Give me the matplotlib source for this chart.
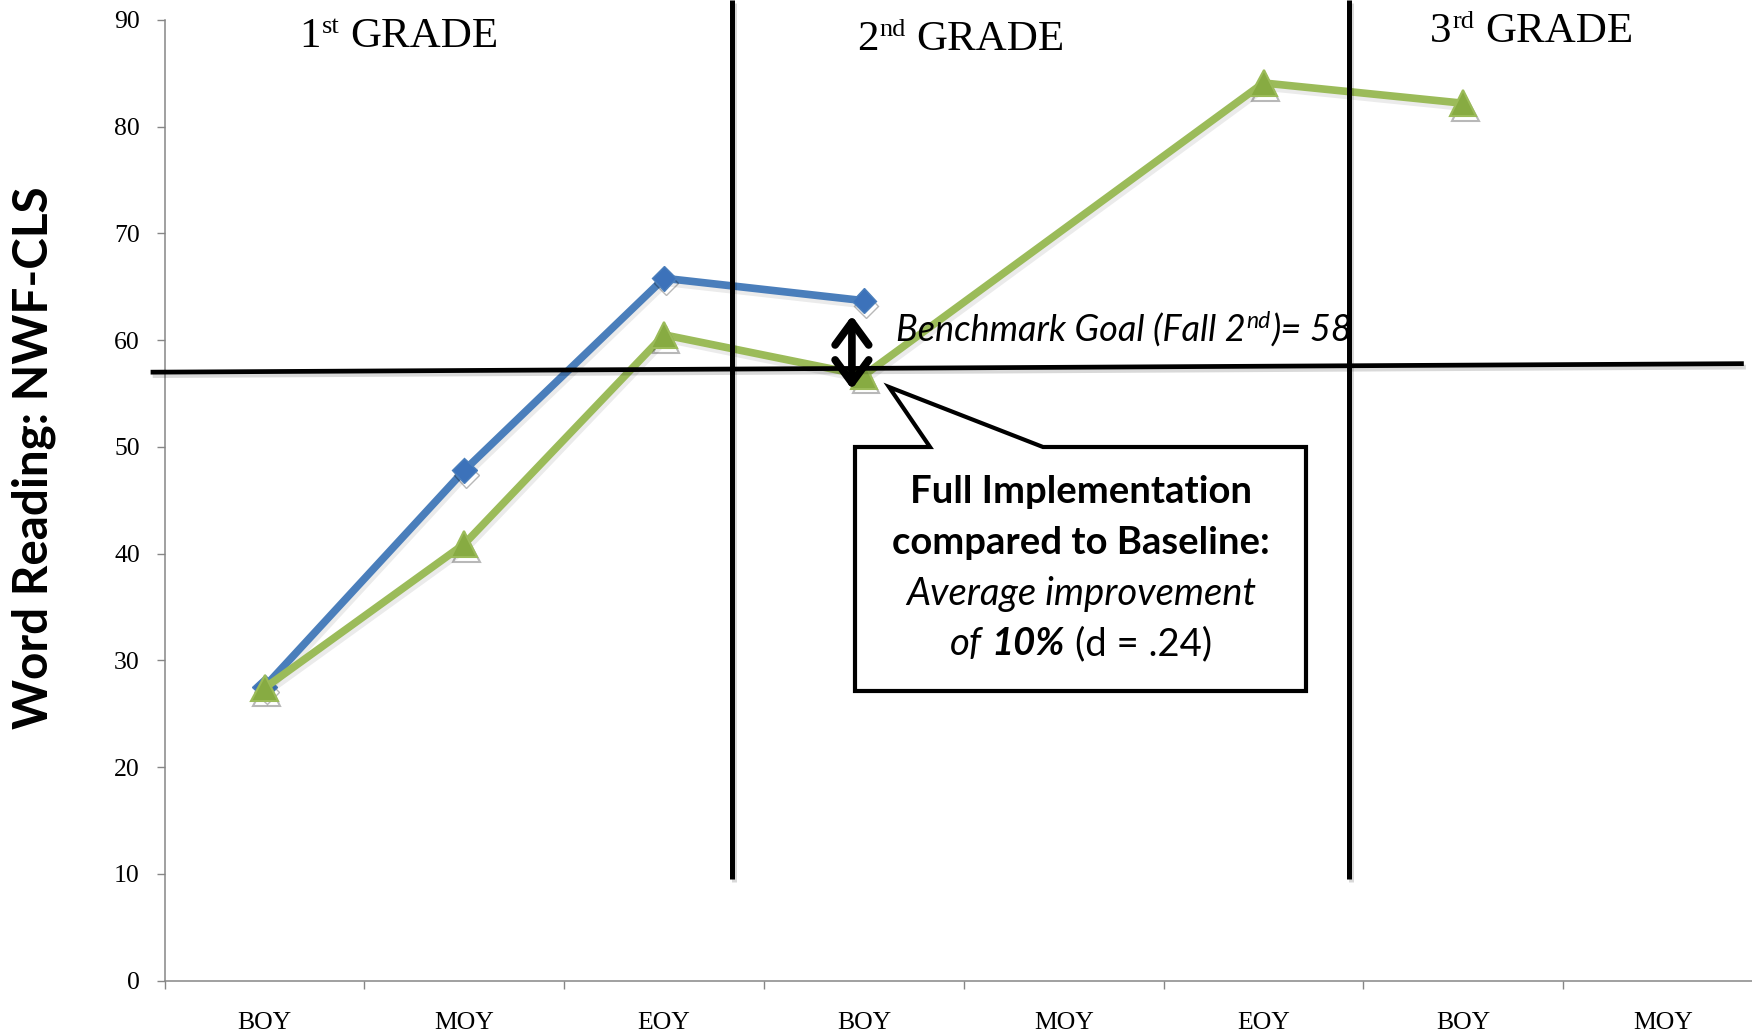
import numpy as np
import matplotlib
matplotlib.use("Agg")
import matplotlib.pyplot as plt
import matplotlib.patheffects as pe
from matplotlib.patches import Polygon, FancyArrowPatch
from matplotlib.font_manager import FontProperties
from matplotlib.transforms import Affine2D

# ---- data -------------------------------------------------------------
periods = ["BOY", "MOY", "EOY", "BOY", "MOY", "EOY", "BOY", "MOY"]
baseline_scores = [27.5, 47.8, 65.8, 63.7, np.nan, np.nan, np.nan, np.nan]
full_impl_scores = [27.4, 40.9, 60.5, 56.7, np.nan, 84.1, 82.2, np.nan]
y_ticks = [0, 10, 20, 30, 40, 50, 60, 70, 80, 90]
benchmark_goal = 58
grade_headers = [("1", "st"), ("2", "nd"), ("3", "rd")]

# ---- figure -----------------------------------------------------------
W, H = 1752, 1034
DPI = 100
fig = plt.figure(figsize=(W / DPI, H / DPI), dpi=DPI)
# pixel transform, origin at top-left of the figure
px = Affine2D().scale(1.0 / W, -1.0 / H).translate(0, 1) + fig.transFigure

ax_left, ax_right, ax_top, ax_bottom = 164.6, 1763.0, 20.0, 980.5
ax = fig.add_axes([ax_left / W, 1 - ax_bottom / H,
                   (ax_right - ax_left) / W, (ax_bottom - ax_top) / H])

serif = "Liberation Serif"
sans = "Lato"
axis_grey = "#868686"
blue = "#4A7EBB"
green = "#9BBB59"

line_shadow = [pe.SimpleLineShadow(offset=(1.5, -3), shadow_color="k", alpha=0.08),
               pe.Normal()]
marker_shadow = [pe.SimpleLineShadow(offset=(1.5, -3.5), shadow_color="k", alpha=0.28),
                 pe.Normal()]

x = np.arange(len(periods))
b = np.array(baseline_scores)
g = np.array(full_impl_scores)
mb = ~np.isnan(b)
mg = ~np.isnan(g)

# series lines
ax.plot(x[mb], b[mb], color=blue, lw=5.5, solid_joinstyle="round",
        zorder=3, path_effects=line_shadow)
ax.plot(x[mg], g[mg], color=green, lw=5.5, solid_joinstyle="round",
        zorder=4, path_effects=line_shadow)
# series markers
ax.plot(x[mb], b[mb], ls="none", marker="D", ms=12.5,
        markerfacecolor="#3C72BA", markeredgecolor="#4A7EBB", markeredgewidth=1,
        zorder=3.5, path_effects=marker_shadow)
ax.plot(x[mg], g[mg], ls="none", marker="^", ms=19,
        markerfacecolor="#87AB42", markeredgecolor="#9BBB59", markeredgewidth=1.5,
        zorder=4.5, path_effects=marker_shadow)

ax.set_xlim(-0.5, len(periods) - 0.5)
ax.set_ylim(0, 90)
ax.set_yticks(y_ticks)
ax.set_yticklabels([str(v) for v in y_ticks])
ax.set_xticks(x)
ax.set_xticklabels(periods)
ax.set_xticks(np.arange(-0.5, len(periods), 1.0), minor=True)

for side in ("top", "right"):
    ax.spines[side].set_visible(False)
for side in ("left", "bottom"):
    ax.spines[side].set_color(axis_grey)
    ax.spines[side].set_linewidth(1.1)

ax.tick_params(axis="y", which="major", direction="out", length=5.8, width=1,
               color=axis_grey, pad=12, labelsize=18.5)
ax.tick_params(axis="x", which="major", length=0, pad=23, labelsize=18.5)
ax.tick_params(axis="x", which="minor", direction="out", length=5.8, width=1,
               color=axis_grey)
for lab in ax.get_xticklabels() + ax.get_yticklabels():
    lab.set_fontfamily(serif)

# ---- grade dividers and benchmark line ---------------------------------
line_fx = [pe.SimpleLineShadow(offset=(1.5, -2.5), shadow_color="k", alpha=0.15),
           pe.Normal()]
for xd in (2.34, 5.43):
    ax.plot([xd, xd], [91.9, 9.55], color="black", lw=3.6, clip_on=False,
            zorder=6, solid_capstyle="butt", path_effects=line_fx)
ax.plot([-0.57, 7.404], [benchmark_goal - 1.0, benchmark_goal - 0.2],
        color="black", lw=3.4, clip_on=False, zorder=6,
        solid_capstyle="butt", path_effects=line_fx)

# double arrow spanning the gap between the two groups at fall of 2nd grade
arrow = FancyArrowPatch((2.94, 55.4), (2.94, 62.3),
                        arrowstyle="<->,head_length=0.75,head_width=0.55",
                        mutation_scale=22, lw=5.5, color="black",
                        shrinkA=0, shrinkB=0, joinstyle="round",
                        capstyle="round", zorder=7, clip_on=False,
                        transform=ax.transData)
ax.add_patch(arrow)


# ---- helper for text with mixed styles ----------------------------------
renderer = fig.canvas.get_renderer()


def text_width(s, fp):
    t = fig.text(0, 0, s, fontproperties=fp)
    w = t.get_window_extent(renderer).width
    t.remove()
    return w


def space_width(fp):
    return text_width("a a", fp) - text_width("aa", fp)


def draw_runs(xp, yp, runs, ha="center", zorder=10):
    """runs: (text, FontProperties, rise_px, gap_before_px)"""
    widths = [text_width(s, fp) for s, fp, _, _ in runs]
    total = sum(widths) + sum(r[3] for r in runs)
    x0 = xp - total / 2 if ha == "center" else xp
    for (s, fp, rise, gap), w in zip(runs, widths):
        x0 += gap
        fig.text(x0, yp - rise, s, fontproperties=fp, transform=px,
                 ha="left", va="baseline", zorder=zorder)
        x0 += w


# grade headers
hdr = FontProperties(family=serif, size=31)
hdr_sup = FontProperties(family=serif, size=19)
hdr_pos = [(399, 47), (961, 50), (1532, 42)]
for (num, sup), (xc, yb) in zip(grade_headers, hdr_pos):
    draw_runs(xc, yb, [(num, hdr, 0, 0), (sup, hdr_sup, 14, 1),
                       ("GRADE", hdr, 0, space_width(hdr))])

# benchmark label
bi = FontProperties(family=sans, style="italic", size=26)
bi_sup = FontProperties(family=sans, style="italic", size=16.5)
draw_runs(896, 342, [("Benchmark Goal (Fall 2", bi, 0, 0),
                     ("nd", bi_sup, 14, 1),
                     (")= " + str(benchmark_goal), bi, 0, 1)], ha="left")

# y-axis title
fig.text(34, 458, "Word Reading: NWF-CLS", transform=px, rotation=90,
         ha="center", va="center", fontfamily=sans, fontweight="bold",
         fontsize=34.3)

# ---- callout ------------------------------------------------------------
callout = Polygon([(855, 447), (930, 447), (889, 387), (1043, 447),
                   (1306, 447), (1306, 691), (855, 691)],
                  closed=True, facecolor="white", edgecolor="black",
                  lw=3, joinstyle="miter", transform=px, zorder=9)
fig.add_artist(callout)

fs = 27.5
cb = FontProperties(family=sans, weight="bold", size=fs)
ci = FontProperties(family=sans, style="italic", size=fs)
cbi = FontProperties(family=sans, style="italic", weight="bold", size=fs)
cr = FontProperties(family=sans, size=fs)
xc = 1081
draw_runs(xc, 503, [("Full Implementation", cb, 0, 0)])
draw_runs(xc, 554, [("compared to Baseline:", cb, 0, 0)])
draw_runs(xc, 605, [("Average improvement", ci, 0, 0)])
draw_runs(xc, 655, [("of", ci, 0, 0), ("10%", cbi, 0, space_width(ci)),
                    ("(d = .24)", cr, 0, space_width(cr))])

fig.savefig("out.png", dpi=DPI, facecolor="white")
